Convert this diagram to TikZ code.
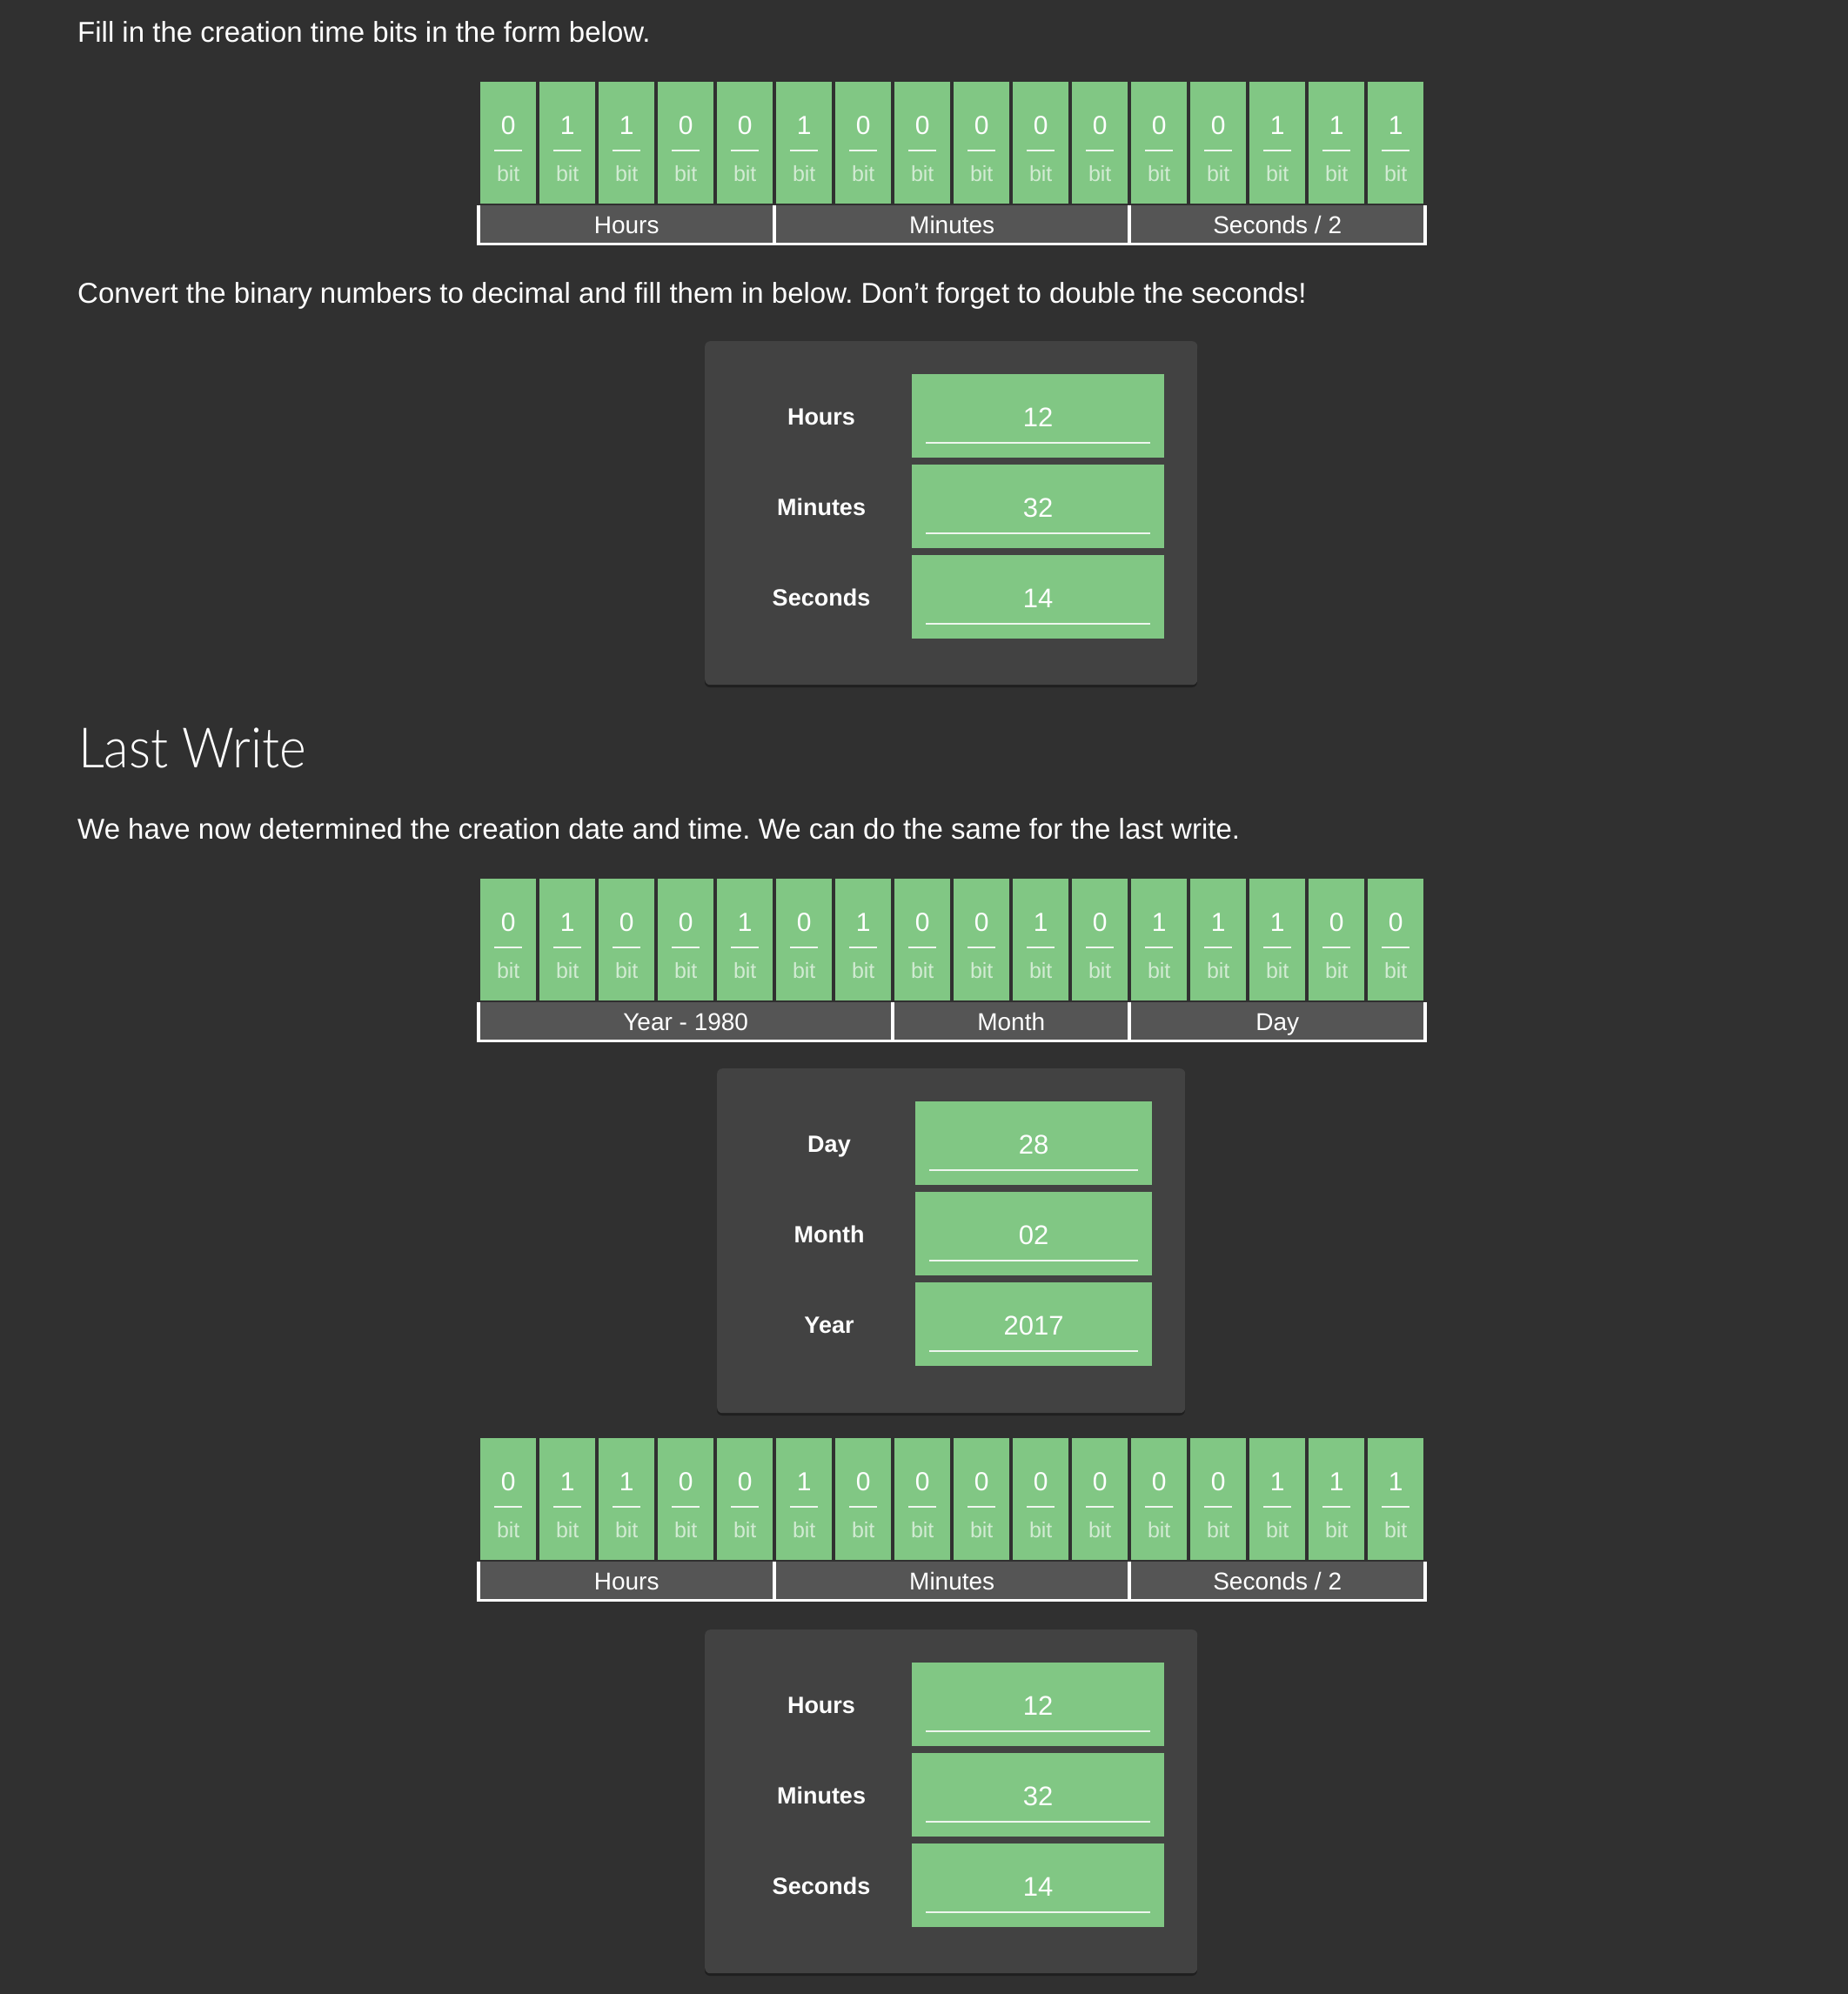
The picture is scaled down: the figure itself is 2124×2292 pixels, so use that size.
\documentclass[tikz,border=0pt]{standalone}
\usepackage{fontspec}
\setmainfont{Liberation Sans}
\newfontfamily\lightfont{Lato Light}[FakeStretch=0.92]
\usetikzlibrary{calc}
\frenchspacing
\definecolor{bgc}{HTML}{303030}
\definecolor{greenc}{HTML}{81C784}
\definecolor{panelc}{HTML}{424242}
\definecolor{barc}{HTML}{555555}
\definecolor{bitc}{HTML}{D2EBD3}
\definecolor{linec}{HTML}{EEF6EE}
\tikzset{
  cellbox/.style={fill=greenc, draw=none, minimum width=64pt, minimum height=140pt, inner sep=0pt, anchor=north west},
  digit/.style={text=white, font=\fontsize{30}{36}\selectfont, inner sep=0pt, anchor=base},
  bittext/.style={text=bitc, font=\fontsize{25}{30}\selectfont, inner sep=0pt, anchor=base},
  uline/.style={draw=linec, line width=2pt},
  segbox/.style={fill=barc, draw=none, minimum height=43pt, inner sep=0pt, anchor=north west},
  seglabel/.style={text=white, font=\fontsize{28}{34}\selectfont, inner sep=0pt, anchor=base},
  panelbox/.style={fill=panelc, draw=none, rounded corners=6pt, inner sep=0pt, anchor=north west},
  fieldbox/.style={fill=greenc, draw=none, minimum height=96pt, inner sep=0pt, anchor=north west},
  fieldnum/.style={text=white, font=\fontsize{31}{37}\selectfont, inner sep=0pt, anchor=base},
  fieldlabel/.style={text=white, font=\bfseries\fontsize{27}{32}\selectfont, inner sep=0pt, anchor=base},
  bodytext/.style={text=white, font=\fontsize{33}{40}\selectfont, inner sep=0pt, anchor=base west},
  titletext/.style={text=white, font=\lightfont\fontsize{64}{76}\selectfont, inner sep=0pt, anchor=base west},
}
% #1 top y, #2 name prefix, #3 bits
\newcommand\mybitrow[3]{%
  \foreach \b [count=\i from 0] in {#3} {%
    \pgfmathsetmacro\xl{552+68*\i}%
    \node[cellbox] (#2c\i) at (\xl,#1) {};
    \node[digit] (#2d\i) at ($(#2c\i.north)+(0,60)$) {\b};
    \draw[uline] ($(#2c\i.north)+(-16,79)$) -- ($(#2c\i.north)+(16,79)$);
    \node[bittext] (#2b\i) at ($(#2c\i.north)+(0,114)$) {bit};
  }%
}
% #1 top y of cells, #2 name prefix, #3 list of left/right/label
\newcommand\mybar[3]{%
  \fill[white] (548,{#1+142}) rectangle (1640,{#1+188});
  \foreach \l/\r/\t [count=\k] in {#3} {%
    \pgfmathsetmacro\w{\r-\l}%
    \node[segbox, minimum width=\w pt] (#2s\k) at (\l,{#1+142}) {};
    \node[seglabel] (#2t\k) at ($(#2s\k.north)+(0,32)$) {\t};
  }%
}
% #1 panel left, #2 panel top, #3 panel right, #4 panel bottom, #5 box left, #6 box right, #7 label x, #8 name, #9 list label/value
\newcommand\mypanel[9]{%
  \fill[black, opacity=0.35, rounded corners=6pt] (#1,{#2+3}) rectangle (#3,{#4+3});
  \pgfmathsetmacro\pw{#3-#1}\pgfmathsetmacro\ph{#4-#2}%
  \node[panelbox, minimum width=\pw pt, minimum height=\ph pt] (#8) at (#1,#2) {};
  \pgfmathsetmacro\bw{#6-#5}%
  \foreach \lab/\val [count=\k from 0] in {#9} {%
    \pgfmathsetmacro\bt{#2+38+104*\k}%
    \node[fieldbox, minimum width=\bw pt] (#8f\k) at (#5,\bt) {};
    \node[fieldnum] (#8n\k) at ($(#8f\k.north)+(0,60)$) {\val};
    \draw[uline] ($(#8f\k.north west)+(16,79)$) -- ($(#8f\k.north east)+(-16,79)$);
    \node[fieldlabel] (#8l\k) at (#7,{\bt+58}) {\lab};
  }%
}
\begin{document}
\begin{tikzpicture}[x=1pt,y=-1pt]
\fill[bgc] (0,0) rectangle (2124,2292);
\useasboundingbox (0,0) rectangle (2124,2292);

\node[bodytext] (txt1) at (89,48) {Fill in the creation time bits in the form below.};
\mybitrow{94}{ra}{0,1,1,0,0,1,0,0,0,0,0,0,0,1,1,1}
\mybar{94}{ba}{552/888/Hours,892/1296/Minutes,1300/1636/{Seconds / 2}}

\node[bodytext] (txt2) at (89,348) {Convert the binary numbers to decimal and fill them in below. Don't forget to double the seconds!};
\mypanel{810}{392}{1376}{787}{1048}{1338}{944}{pa}{Hours/12,Minutes/32,Seconds/14}

\node[titletext] (title) at (90,882) {Last Write};
\node[bodytext] (txt3) at (89,964) {We have now determined the creation date and time. We can do the same for the last write.};

\mybitrow{1010}{rb}{0,1,0,0,1,0,1,0,0,1,0,1,1,1,0,0}
\mybar{1010}{bb}{552/1024/{Year - 1980},1028/1296/Month,1300/1636/Day}
\mypanel{824}{1228}{1362}{1624}{1052}{1324}{953}{pb}{Day/28,Month/02,Year/2017}

\mybitrow{1653}{rc}{0,1,1,0,0,1,0,0,0,0,0,0,0,1,1,1}
\mybar{1653}{bc}{552/888/Hours,892/1296/Minutes,1300/1636/{Seconds / 2}}
\mypanel{810}{1873}{1376}{2268}{1048}{1338}{944}{pc}{Hours/12,Minutes/32,Seconds/14}
\end{tikzpicture}
\end{document}
